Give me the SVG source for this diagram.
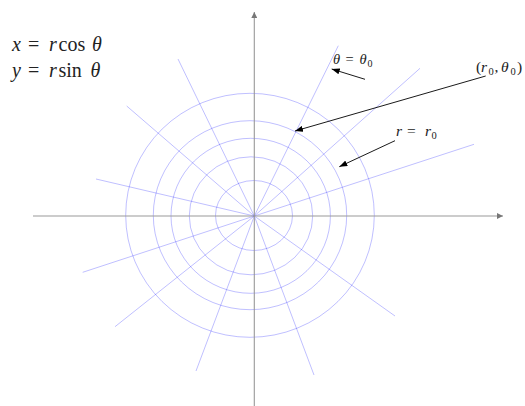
<svg xmlns="http://www.w3.org/2000/svg" width="525" height="406" viewBox="0 0 525 406">
<style>
.grid{fill:none;stroke:#0000ff;stroke-opacity:0.25;stroke-width:1}
.axis{fill:none;stroke:#999;stroke-width:1.1}
.arr{fill:none;stroke:#000;stroke-width:0.9}
.t{font-family:'Liberation Serif','DejaVu Serif',serif;fill:#222}
.it{font-style:italic}
</style>
<defs>
<marker id="ah" markerUnits="userSpaceOnUse" markerWidth="9" markerHeight="6" refX="8" refY="3" orient="auto"><path d="M0,0 L8,3 L0,6 z" fill="#000"/></marker>
<marker id="axh" markerUnits="userSpaceOnUse" markerWidth="7" markerHeight="6" refX="6" refY="3" orient="auto"><path d="M0,0 L6,3 L0,6 z" fill="#777"/></marker>
</defs>
<rect width="525" height="406" fill="#fff"/>
<g id="grid">
<ellipse class="grid" cx="254" cy="215.5" rx="38.5" ry="35"/>
<ellipse class="grid" cx="251" cy="215.8" rx="61.7" ry="59"/>
<ellipse class="grid" cx="250.7" cy="215.8" rx="79.7" ry="77.5"/>
<ellipse class="grid" cx="250" cy="215.2" rx="96.7" ry="94.5"/>
<ellipse class="grid" cx="250" cy="215.3" rx="124.3" ry="122"/>
<g id="rays">
<line class="grid" x1="254.3" y1="216" x2="338.3" y2="45.7"/>
<line class="grid" x1="254.3" y1="216" x2="420" y2="68.3"/>
<line class="grid" x1="254.3" y1="216" x2="474" y2="144.3"/>
<line class="grid" x1="254.3" y1="216" x2="178" y2="59"/>
<line class="grid" x1="254.3" y1="216" x2="126.7" y2="106"/>
<line class="grid" x1="254.3" y1="216" x2="96" y2="179"/>
<line class="grid" x1="254.3" y1="216" x2="82.7" y2="272.3"/>
<line class="grid" x1="254.3" y1="216" x2="115" y2="326.7"/>
<line class="grid" x1="254.3" y1="216" x2="196" y2="371"/>
<line class="grid" x1="254.3" y1="216" x2="314" y2="375"/>
<line class="grid" x1="254.3" y1="216" x2="395" y2="316"/>
</g>
</g>
<g id="axes">
<line class="axis" x1="33" y1="216" x2="503" y2="216" marker-end="url(#axh)"/>
<line class="axis" x1="254.3" y1="406" x2="254.3" y2="12" marker-end="url(#axh)"/>
</g>
<g id="formula-x">
<text class="t" y="51" font-size="20"><tspan class="it" x="12">x</tspan><tspan x="28">=</tspan><tspan class="it" x="49">r</tspan><tspan x="58.5">cos</tspan><tspan class="it" x="92">θ</tspan></text>
</g>
<g id="formula-y">
<text class="t" y="77" font-size="20"><tspan class="it" x="12">y</tspan><tspan x="28">=</tspan><tspan class="it" x="49">r</tspan><tspan x="58.5">sin</tspan><tspan class="it" x="90.5">θ</tspan></text>
</g>
<g id="label-theta">
<text class="t" y="64" font-size="14.5"><tspan class="it" x="333">θ</tspan><tspan x="345.5">=</tspan><tspan class="it" x="359.5">θ</tspan><tspan x="367.5" dy="3" font-size="10">0</tspan></text>
</g>
<g id="label-point">
<text class="t" y="72" font-size="15.5"><tspan x="476">(</tspan><tspan class="it" x="481">r</tspan><tspan x="488.5" dy="3" font-size="10.5">0</tspan><tspan x="494.5" dy="-3">,</tspan><tspan class="it" x="501">θ</tspan><tspan x="510.5" dy="3" font-size="10.5">0</tspan><tspan x="517" dy="-3">)</tspan></text>
</g>
<g id="label-r">
<text class="t" y="135.5" font-size="15.5"><tspan class="it" x="396">r</tspan><tspan x="407">=</tspan><tspan class="it" x="425">r</tspan><tspan x="431.5" dy="3.5" font-size="10.5">0</tspan></text>
</g>
<g id="connectors">
<line class="arr" x1="365" y1="79.3" x2="331.7" y2="69" marker-end="url(#ah)"/>
<line class="arr" x1="485.7" y1="76" x2="295" y2="131" marker-end="url(#ah)"/>
<line class="arr" x1="395" y1="140.7" x2="339.3" y2="166.7" marker-end="url(#ah)"/>
</g>
</svg>
